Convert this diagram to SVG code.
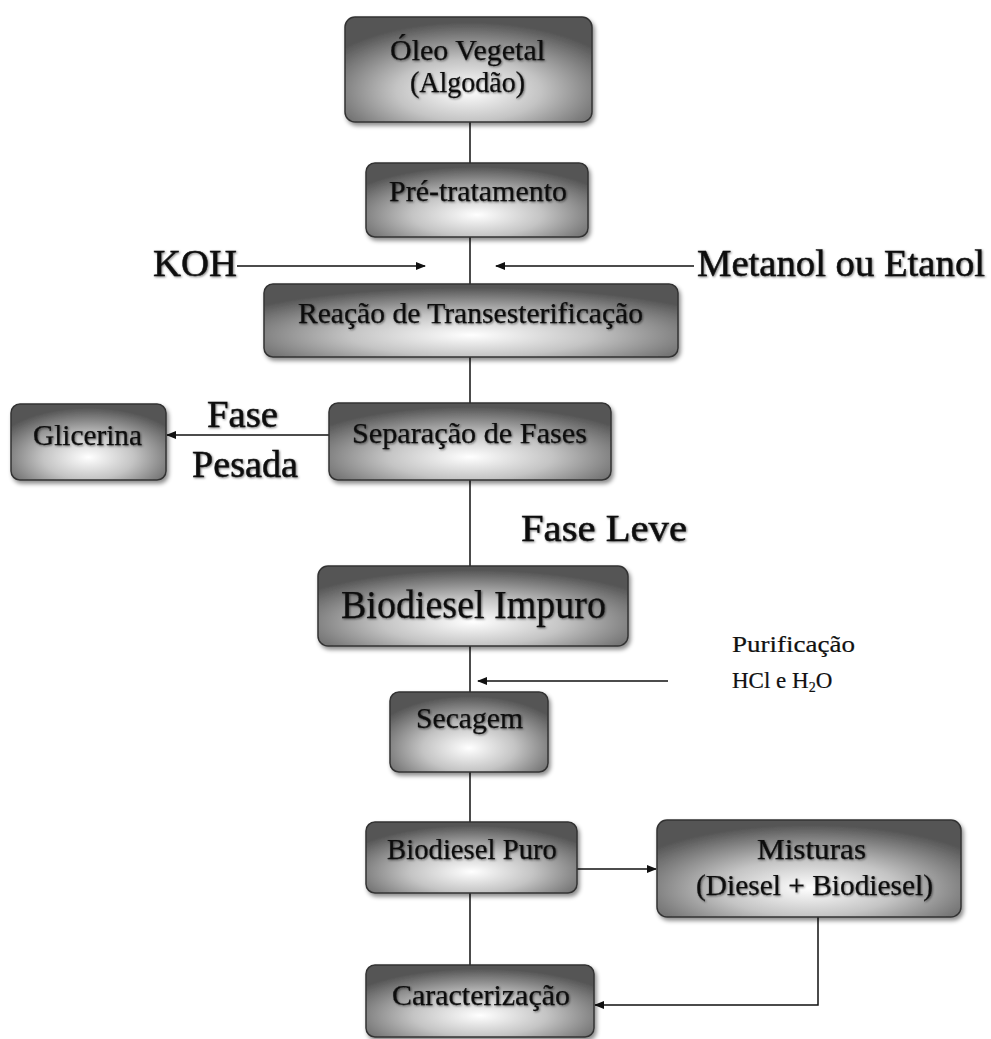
<svg xmlns="http://www.w3.org/2000/svg" width="991" height="1039" viewBox="0 0 991 1039">
<defs>
<radialGradient id="g" cx="50%" cy="70%" r="65%">
<stop offset="0" stop-color="#ffffff"/>
<stop offset="0.45" stop-color="#c4c4c4"/>
<stop offset="1" stop-color="#555555"/>
</radialGradient>
<filter id="sh" x="-10%" y="-10%" width="130%" height="140%">
<feDropShadow dx="2" dy="3" stdDeviation="2" flood-color="#000" flood-opacity="0.45"/>
</filter>
<filter id="ts" x="-5%" y="-20%" width="110%" height="150%">
<feDropShadow dx="1" dy="1" stdDeviation="0.8" flood-color="#000" flood-opacity="0.5"/>
</filter>
<marker id="ah" markerWidth="10" markerHeight="10" refX="9" refY="5" orient="auto" markerUnits="userSpaceOnUse">
<path d="M0,1 L10,5 L0,9 Z" fill="#111"/>
</marker>
</defs>
<style>
.box{fill:url(#g);stroke:#333;stroke-width:1.5;filter:url(#sh)}
.nt{font-family:"Liberation Serif",serif;fill:#111;stroke:#111;stroke-width:0.25;filter:url(#ts)}
.lb{font-family:"Liberation Serif",serif;fill:#111;stroke:#111;stroke-width:0.5;filter:url(#ts)}
.sm{font-family:"Liberation Serif",serif;fill:#111;stroke:#111;stroke-width:0.2}
.c{stroke:#111;stroke-width:1.5;fill:none}
.a{stroke:#111;stroke-width:1.5;fill:none;marker-end:url(#ah)}
</style>
<rect width="991" height="1039" fill="#fff"/>
<g id="connectors">
<line class="c" x1="470" y1="122" x2="470" y2="163"/>
<line class="c" x1="470" y1="237" x2="470" y2="284"/>
<line class="a" x1="237" y1="266" x2="425" y2="266"/>
<line class="a" x1="694" y1="266" x2="496" y2="266"/>
<line class="c" x1="470" y1="357" x2="470" y2="403"/>
<line class="a" x1="329" y1="435" x2="167" y2="435"/>
<line class="c" x1="470" y1="480" x2="470" y2="566"/>
<line class="c" x1="470" y1="646" x2="470" y2="692"/>
<line class="a" x1="668" y1="681" x2="478" y2="681"/>
<line class="c" x1="470" y1="772" x2="470" y2="822"/>
<line class="a" x1="577" y1="869" x2="656" y2="869"/>
<line class="c" x1="470" y1="893" x2="470" y2="965"/>
<polyline class="a" points="818,917 818,1005 595,1005"/>
</g>
<g id="oleo"><rect class="box" x="345" y="17" width="247" height="105" rx="10"/>
<text class="nt" x="390" y="60" font-size="30" textLength="155" lengthAdjust="spacingAndGlyphs">Óleo Vegetal</text>
<text class="nt" x="410" y="92" font-size="30" textLength="115" lengthAdjust="spacingAndGlyphs">(Algodão)</text></g>
<g id="pretratamento"><rect class="box" x="366" y="163" width="222" height="74" rx="9"/>
<text class="nt" x="389" y="201" font-size="30" textLength="178" lengthAdjust="spacingAndGlyphs">Pré-tratamento</text></g>
<g id="reacao"><rect class="box" x="264" y="284" width="414" height="73" rx="9"/>
<text class="nt" x="298" y="323" font-size="30" textLength="345" lengthAdjust="spacingAndGlyphs">Reação de Transesterificação</text></g>
<g id="separacao"><rect class="box" x="329" y="403" width="282" height="77" rx="9"/>
<text class="nt" x="352" y="443" font-size="30" textLength="235" lengthAdjust="spacingAndGlyphs">Separação de Fases</text></g>
<g id="glicerina"><rect class="box" x="11" y="404" width="155" height="76" rx="9"/>
<text class="nt" x="33" y="445" font-size="29" textLength="109" lengthAdjust="spacingAndGlyphs">Glicerina</text></g>
<g id="impuro"><rect class="box" x="318" y="566" width="310" height="80" rx="10"/>
<text class="nt" x="341" y="618" font-size="40" textLength="265" lengthAdjust="spacingAndGlyphs">Biodiesel Impuro</text></g>
<g id="secagem"><rect class="box" x="390" y="692" width="158" height="80" rx="9"/>
<text class="nt" x="416" y="728" font-size="30" textLength="107" lengthAdjust="spacingAndGlyphs">Secagem</text></g>
<g id="puro"><rect class="box" x="366" y="822" width="211" height="71" rx="9"/>
<text class="nt" x="387" y="859" font-size="29" textLength="170" lengthAdjust="spacingAndGlyphs">Biodiesel Puro</text></g>
<g id="misturas"><rect class="box" x="657" y="820" width="304" height="97" rx="10"/>
<text class="nt" x="757" y="859" font-size="29" textLength="109" lengthAdjust="spacingAndGlyphs">Misturas</text>
<text class="nt" x="696" y="895" font-size="29" textLength="237" lengthAdjust="spacingAndGlyphs">(Diesel + Biodiesel)</text></g>
<g id="caracterizacao"><rect class="box" x="366" y="965" width="228" height="72" rx="9"/>
<text class="nt" x="392" y="1005" font-size="30" textLength="178" lengthAdjust="spacingAndGlyphs">Caracterização</text></g>
<g id="labels">
<text class="lb" x="153" y="276" font-size="38" textLength="84" lengthAdjust="spacingAndGlyphs">KOH</text>
<text class="lb" x="697" y="276" font-size="38" textLength="288" lengthAdjust="spacingAndGlyphs">Metanol ou Etanol</text>
<text class="lb" x="207" y="427" font-size="37" textLength="71" lengthAdjust="spacingAndGlyphs">Fase</text>
<text class="lb" x="192" y="477" font-size="37" textLength="106" lengthAdjust="spacingAndGlyphs">Pesada</text>
<text class="lb" x="521" y="541" font-size="38" textLength="166" lengthAdjust="spacingAndGlyphs">Fase Leve</text>
<text class="sm" x="732" y="652" font-size="23" textLength="123" lengthAdjust="spacingAndGlyphs">Purificação</text>
<text class="sm" x="732" y="688" font-size="23">HCl e H<tspan font-size="14" dy="4">2</tspan><tspan dy="-4">O</tspan></text>
</g>
</svg>
